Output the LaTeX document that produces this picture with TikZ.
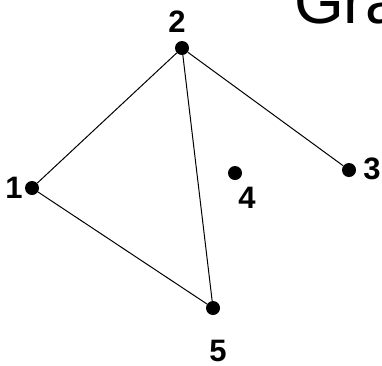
\documentclass[tikz,border=0pt]{standalone}
\usepackage{fontspec}
\setmainfont{Liberation Sans}
\usetikzlibrary{positioning}
\tikzset{
    vertex/.style={circle, fill=black, inner sep=0pt, minimum size=14pt},
    vlabel/.style={inner sep=0pt, font=\fontsize{31}{31}\selectfont\bfseries},
    edge/.style={draw=black, line width=1pt}
}
\begin{document}
\begin{tikzpicture}[x=1pt,y=-1pt]
        \useasboundingbox (0,0) rectangle (382,365);
        \clip (0,0) rectangle (382,365);
        \node[anchor=base west, inner sep=0pt, font=\fontsize{64}{64}\selectfont] (title) at (294,23) {Gra};
        \node[vertex] (v1) at (32,188) {};
        \node[vertex] (v2) at (182,48) {};
        \node[vertex] (v3) at (349,170) {};
        \node[vertex] (v4) at (235,173) {};
        \node[vertex] (v5) at (213,308) {};
        \node[vlabel] (l1) at (14,188) {1};
        \node[vlabel] (l2) at (177,22) {2};
        \node[vlabel] (l3) at (372,169) {3};
        \node[vlabel] (l4) at (247,198) {4};
        \node[vlabel] (l5) at (218,351) {5};
        \draw[edge] (v1) -- (v2);
        \draw[edge] (v2) -- (v3);
        \draw[edge] (v2) -- (v5);
        \draw[edge] (v1) -- (v5);
    \end{tikzpicture}
\end{document}
